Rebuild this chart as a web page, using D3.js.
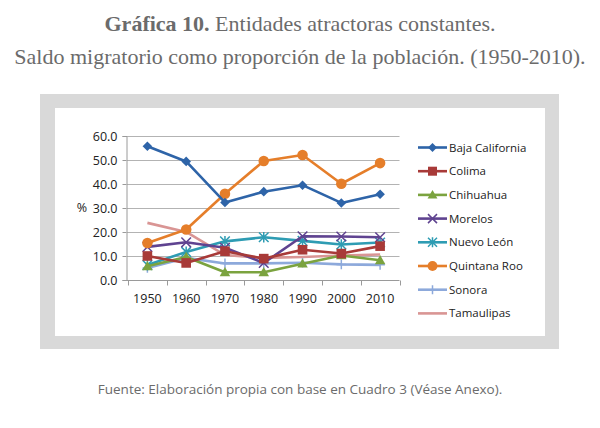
<!DOCTYPE html>
<html>
<head>
<meta charset="utf-8">
<script src="https://cdn.jsdelivr.net/npm/d3@7"></script>
<style>
  html, body { margin: 0; padding: 0; background: #fff; }
  svg { display: block; }
</style>
</head>
<body>
<svg id="chart" width="600" height="428"></svg>
<script>
const years = ["1950", "1960", "1970", "1980", "1990", "2000", "2010"];
const yTicks = [0, 10, 20, 30, 40, 50, 60];
const bajaCalifornia = [55.5, 49.2, 32.1, 36.6, 39.3, 31.9, 35.5];
const colima = [9.8, 6.9, 11.8, 8.7, 12.4, 10.8, 13.9];
const chihuahua = [5.5, 9.4, 3.0, 3.0, 6.6, 10.0, 8.0];
const morelos = [13.6, 15.5, 13.2, 6.9, 18.0, 17.9, 17.6];
const nuevoLeon = [6.0, 11.5, 15.9, 17.6, 16.1, 14.6, 15.4];
const quintanaRoo = [15.2, 20.8, 35.7, 49.4, 51.9, 39.9, 48.5];
const sonora = [4.8, 9.0, 6.7, 6.7, 7.0, 6.3, 6.1];
const tamaulipas = [23.6, 19.8, 10.2, 9.0, 9.4, 10.0, 10.4];

const seriesNames = ["Baja California", "Colima", "Chihuahua", "Morelos", "Nuevo León", "Quintana Roo", "Sonora", "Tamaulipas"];
const seriesValues = [bajaCalifornia, colima, chihuahua, morelos, nuevoLeon, quintanaRoo, sonora, tamaulipas];
const colors = ["#2E64A8", "#A83A38", "#7BA33F", "#5F4390", "#2E9CB3", "#E57E2A", "#8DA9DB", "#D99594"];
const markers = ["diamond", "square", "triangle", "x", "asterisk", "circle", "plus", "none"];

const series = seriesNames.map((name, i) => ({ name, values: seriesValues[i], color: colors[i], marker: markers[i] }));

const svg = d3.select("#chart");

// Title
const title = svg.append("text").attr("x", 300).attr("y", 31).attr("text-anchor", "middle")
  .style("font-family", "'Liberation Serif', 'DejaVu Serif', serif").style("font-size", "22px").style("fill", "#6b6b6b");
title.append("tspan").style("font-weight", "bold").text("Gráfica 10.");
title.append("tspan").text(" Entidades atractoras constantes.");
svg.append("text").attr("x", 300).attr("y", 64).attr("text-anchor", "middle")
  .style("font-family", "'Liberation Serif', 'DejaVu Serif', serif").style("font-size", "22px").style("fill", "#6b6b6b")
  .text("Saldo migratorio como proporción de la población. (1950-2010).");

// Frame
svg.append("rect").attr("x", 40).attr("y", 94).attr("width", 519).attr("height", 255).attr("fill", "#d9d9d9");
svg.append("rect").attr("x", 55).attr("y", 108).attr("width", 490).attr("height", 228).attr("fill", "#ffffff");

const x = d3.scalePoint().domain(years).range([128, 399.5]).padding(0.5);
const y = d3.scaleLinear().domain([0, 60]).range([279.5, 135.5]);

const font = "'Open Sans', 'Noto Sans', sans-serif";

// Gridlines
svg.append("g").selectAll("line").data(yTicks.filter(d => d > 0)).join("line")
  .attr("x1", 127).attr("x2", 399.5)
  .attr("y1", d => Math.round(y(d)) + 0.5).attr("y2", d => Math.round(y(d)) + 0.5)
  .attr("stroke", "#b3b3b3").attr("stroke-width", 1);

// Y axis
const yAxis = svg.append("g").attr("transform", "translate(126.5,0.5)")
  .call(d3.axisLeft(y).tickValues(yTicks).tickSize(4).tickFormat(d3.format(".1f")));
yAxis.select(".domain").attr("stroke", "#9a9a9a");
yAxis.selectAll(".tick line").attr("stroke", "#9a9a9a");
yAxis.selectAll(".tick text").attr("x", -9).style("font-family", font).style("font-size", "12.5px").style("fill", "#222");

svg.append("text").attr("x", 82).attr("y", 212).attr("text-anchor", "middle")
  .style("font-family", font).style("font-size", "12.5px").style("fill", "#222").text("%");

// X axis
const xAxisG = svg.append("g").attr("transform", `translate(0,${Math.round(y(0)) + 0.5})`);
xAxisG.append("line").attr("x1", 126.5).attr("x2", 399.5).attr("stroke", "#9a9a9a");
const step = x.step();
const boundaries = d3.range(years.length + 1).map(i => x(years[0]) - step / 2 + i * step);
xAxisG.selectAll("line.tk").data(boundaries).join("line").attr("class", "tk")
  .attr("x1", d => Math.round(d) + 0.5).attr("x2", d => Math.round(d) + 0.5).attr("y1", 0).attr("y2", 5)
  .attr("stroke", "#9a9a9a");
xAxisG.selectAll("text").data(years).join("text")
  .attr("x", d => x(d)).attr("y", 22).attr("text-anchor", "middle")
  .style("font-family", font).style("font-size", "12.5px").style("fill", "#222").text(d => d);

// Marker drawing
function drawMarker(g, type, color, s) {
  if (type === "diamond") {
    g.append("path").attr("d", `M0,${-s}L${s},0L0,${s}L${-s},0Z`).attr("fill", color);
  } else if (type === "square") {
    g.append("rect").attr("x", -s).attr("y", -s).attr("width", 2 * s).attr("height", 2 * s).attr("fill", color);
  } else if (type === "triangle") {
    g.append("path").attr("d", `M0,${-s * 1.1}L${s * 1.1},${s * 0.8}L${-s * 1.1},${s * 0.8}Z`).attr("fill", color);
  } else if (type === "circle") {
    g.append("circle").attr("r", s * 1.1).attr("fill", color);
  } else if (type === "x") {
    g.append("path").attr("d", `M${-s},${-s}L${s},${s}M${-s},${s}L${s},${-s}`).attr("stroke", color).attr("stroke-width", 1.5).attr("fill", "none");
  } else if (type === "asterisk") {
    g.append("path").attr("d", `M${-s},${-s}L${s},${s}M${-s},${s}L${s},${-s}M0,${-s * 1.1}L0,${s * 1.1}`).attr("stroke", color).attr("stroke-width", 1.5).attr("fill", "none");
  } else if (type === "plus") {
    g.append("path").attr("d", `M0,${-s}L0,${s}M${-s},0L${s},0`).attr("stroke", color).attr("stroke-width", 1.5).attr("fill", "none");
  }
}

const line = d3.line().x((d, i) => x(years[i])).y(d => y(d));

// Draw series so the first series sits on top
const order = [7, 6, 4, 3, 2, 1, 5, 0];
order.forEach(i => {
  const s = series[i];
  const g = svg.append("g");
  g.append("path").datum(s.values).attr("d", line).attr("fill", "none")
    .attr("stroke", s.color).attr("stroke-width", 2.6).attr("stroke-linejoin", "round");
  s.values.forEach((v, j) => {
    const mg = g.append("g").attr("transform", `translate(${x(years[j])},${y(v)})`);
    drawMarker(mg, s.marker, s.color, 4.8);
  });
});

// Legend
const legend = svg.append("g");
series.forEach((s, i) => {
  const ly = 147.5 + i * 23.7;
  const lg = legend.append("g");
  lg.append("line").attr("x1", 418).attr("x2", 447).attr("y1", ly).attr("y2", ly)
    .attr("stroke", s.color).attr("stroke-width", 2.6);
  const mg = lg.append("g").attr("transform", `translate(432.5,${ly})`);
  drawMarker(mg, s.marker, s.color, 4.5);
  lg.append("text").attr("x", 449).attr("y", ly + 4).style("font-family", font).style("font-size", "11.5px")
    .style("fill", "#222").text(s.name);
});

// Footer
svg.append("text").attr("x", 300).attr("y", 394).attr("text-anchor", "middle")
  .style("font-family", font).style("font-size", "13.5px").style("fill", "#6b6b6b")
  .text("Fuente: Elaboración propia con base en Cuadro 3 (Véase Anexo).");
</script>
</body>
</html>
